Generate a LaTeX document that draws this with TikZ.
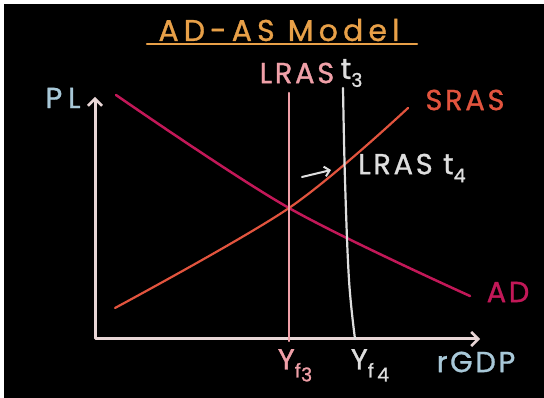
\documentclass[tikz,border=0pt]{standalone}
\usepackage{fontspec}
\usepackage{xcolor}
\usetikzlibrary{arrows.meta}
\newfontfamily\hand[LetterSpace=9,FakeBold=1]{Poppins}
\newcommand{\lowidx}[2][-8pt]{\raisebox{#1}{\fontsize{19}{19}\selectfont #2}}
\definecolor{chalkbg}{RGB}{0,0,0}
\definecolor{axiscol}{RGB}{232,214,214}
\definecolor{adcol}{RGB}{194,24,88}
\definecolor{srascol}{RGB}{226,84,62}
\definecolor{lrasthree}{RGB}{240,160,168}
\definecolor{lrasfour}{RGB}{222,222,222}
\definecolor{titlecol}{RGB}{232,160,72}
\definecolor{axlbl}{RGB}{168,200,216}

\begin{document}
\begin{tikzpicture}[x=1pt,y=-1pt,line cap=round,line join=round,
  lbl/.style={font=\hand\fontsize{29}{30}\selectfont,inner sep=0pt},
  barb/.tip={Straight Barb[length=7pt,width=14pt,line width=2.5pt]}]
\useasboundingbox (0,0) rectangle (544,398);
\fill[white] (0,0) rectangle (544,398);
\fill[chalkbg] (4,4) rectangle (544,398);
% title
\node[lbl,text=titlecol,font=\hand\addfontfeatures{LetterSpace=17}\fontsize{30}{30}\selectfont] (title) at (279,30) {AD-AS Model};
\draw[titlecol,line width=2.5pt] (147,44) -- (417,44);
% axes
\coordinate (O) at (95,339);
\coordinate (ytip) at (95,97);
\coordinate (xtip) at (480,339);
\draw[axiscol,line width=3pt,arrows={barb-barb}] (ytip) -- (O) -- (xtip);
\node[lbl,text=axlbl,font=\hand\addfontfeatures{LetterSpace=20}\fontsize{29}{30}\selectfont] (PL) at (63,98) {PL};
\node[lbl,text=axlbl] (rGDP) at (476,362) {rGDP};
% curves
\draw[adcol,line width=2.5pt] plot[smooth,tension=0.55] coordinates {(116,95) (289,208) (470,296)};
\draw[srascol,line width=2.2pt] plot[smooth,tension=0.55] coordinates {(115,308) (289,208) (408,108)};
\draw[lrasthree,line width=2.5pt] (289,93) -- (289,341);
\draw[lrasfour,line width=2.2pt] plot[smooth,tension=0.6] coordinates {(343,88) (345,180) (349,280) (355,339)};
\node[lbl,text=adcol] (AD) at (508,292) {AD};
\node[lbl,text=srascol] (SRAS) at (465,100) {SRAS};
% LRAS labels
\node[lbl,text=lrasthree] (lrasA) at (297,73) {LRAS};
\node[lbl,text=lrasfour,anchor=west] (tA) at ([xshift=6pt]lrasA.east) {t\lowidx{3}};
\node[lbl,text=lrasfour,anchor=west] (lrasB) at (358,168) {LRAS t\lowidx{4}};
\coordinate (shiftA) at (302,177);
\coordinate (shiftB) at (331,170);
\draw[lrasfour,line width=2pt,-{Straight Barb[length=5pt,width=10pt,line width=2pt]}] (shiftA) -- (shiftB);
% full employment output
\node[lbl,text=lrasthree,anchor=north] (yf3) at (295,349) {Y\lowidx{f\lowidx[-4pt]{3}}};
\node[lbl,text=lrasfour,anchor=north] (yf4) at (370,349) {Y\lowidx{f\,\lowidx[-4pt]{4}}};
\end{tikzpicture}
\end{document}
